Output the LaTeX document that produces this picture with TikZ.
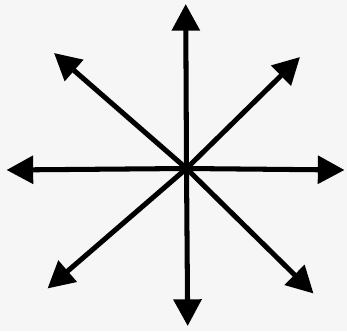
\documentclass[tikz,border=0pt]{standalone}
\usetikzlibrary{arrows.meta}
\definecolor{sfondo}{RGB}{246,246,246}
\tikzset{
  freccia/.style={line width=4.3pt, -{Triangle[length=0.8cm,width=0.82cm]}}
}
\begin{document}
\begin{tikzpicture}[x=0.03cm, y=-0.03cm]

        % 1. Sfondo e dimensioni del disegno
        \fill[sfondo] (0,0) rectangle (347,331);
        \useasboundingbox (0,0) rectangle (347,331);

        % 2. Centro e punte delle frecce
        \coordinate (centro) at (186.5,168.5);
        \coordinate (nord) at (185.7,4);
        \coordinate (sud) at (187.7,326);
        \coordinate (ovest) at (6.5,170);
        \coordinate (est) at (344.5,170);
        \coordinate (nordovest) at (54,53);
        \coordinate (nordest) at (300,57);
        \coordinate (sudovest) at (47.5,288.5);
        \coordinate (sudest) at (313.5,293.5);

        % 3. Frecce dal centro verso l'esterno
        \foreach \p in {nord,sud,ovest,est,nordovest,nordest,sudovest,sudest}
            \draw[freccia] (centro) -- (\p);
    \end{tikzpicture}
\end{document}
